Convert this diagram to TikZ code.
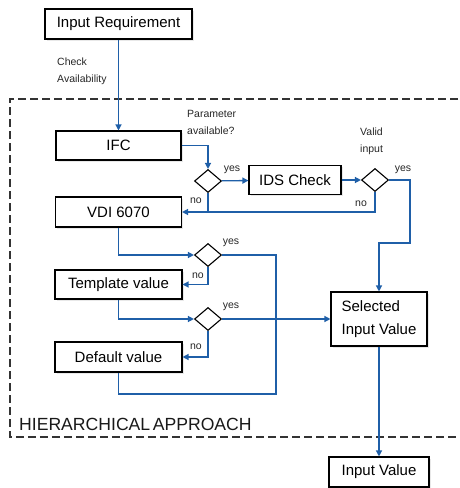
\documentclass[tikz,border=0pt]{standalone}
\usepackage{fontspec}
\setmainfont{Liberation Sans}
\usetikzlibrary{shapes.geometric,arrows.meta,shadows}
\definecolor{flowblue}{RGB}{31,95,168}

\begin{document}
\begin{tikzpicture}[x=1pt,y=-1pt,
    box/.style={draw=black,fill=white,line width=1.1pt,inner sep=0pt,
      font=\fontsize{15}{23}\selectfont,
      drop shadow={shadow xshift=1.5pt,shadow yshift=-1.5pt,opacity=0.18}},
    check/.style={diamond,draw=black,fill=white,line width=1.1pt,inner sep=0pt,
      minimum width=27pt,minimum height=23pt},
    flow/.style={draw=flowblue,line width=1.3pt},
    arr/.style={flow,-{Triangle[length=6pt,width=6pt]}},
    lbl/.style={font=\fontsize{10.5}{17}\selectfont,inner sep=0pt,text=black!85}]
  \useasboundingbox (0,0) rectangle (459,488);
  % hierarchical frame
  \draw[line width=1.2pt,black!80,dash pattern=on 8pt off 4pt] (470,99) -| (10,437) -- (470,437);
  \node[anchor=west,inner sep=0pt,font=\fontsize{17.6}{20}\selectfont,text=black!90] (frame) at (19,424) {HIERARCHICAL\hspace{0.15em}APPROACH};
  % boxes
  \node[box,minimum width=147pt,minimum height=30pt] (req) at (118.5,24) {Input Requirement};
  \node[box,minimum width=125pt,minimum height=29pt] (ifc) at (118.5,145.5) {IFC};
  \node[box,minimum width=126pt,minimum height=30pt] (vdi) at (118.5,212) {VDI 6070};
  \node[box,minimum width=127pt,minimum height=29pt] (tmpl) at (118.5,284.5) {Template value};
  \node[box,minimum width=127pt,minimum height=30pt] (dflt) at (118.5,357) {Default value};
  \node[box,minimum width=92pt,minimum height=29pt] (ids) at (295,180) {IDS Check};
  \node[box,minimum width=96pt,minimum height=54pt,align=left] (sel) at (379,319) {Selected\\Input Value};
  \node[box,minimum width=100pt,minimum height=30pt] (out) at (379,472) {Input Value};
  % decisions
  \node[check] (d1) at (208,181) {};
  \node[check] (d2) at (375,180) {};
  \node[check] (d3) at (208,255) {};
  \node[check] (d4) at (208,319) {};
  % free corners
  \coordinate (c1) at (410,243);
  \coordinate (c2) at (276,394);
  % connectors
  \draw[arr] (req) -- (ifc);
  \draw[arr] (ifc.east) -| (d1.north);
  \draw[arr] (d1) -- (ids);
  \draw[arr] (ids) -- (d2);
  \draw[arr] (d2.east) -| (c1) -| (sel.north);
  \draw[flow] (d1.south) -- (d1.south |- vdi.east);
  \draw[arr] (d2.south) |- (vdi.east);
  \draw[arr] (vdi.south) |- (d3.west);
  \draw[arr] (d3.south) |- (tmpl.east);
  \draw[arr] (tmpl.south) |- (d4.west);
  \draw[arr] (d4.south) |- (dflt.east);
  \draw[flow] (d3.east) -| (c2) -| (dflt.south);
  \draw[arr] (d4.east) -- (d4.east -| sel.west);
  \draw[arr] (sel) -- (out);
  % labels
  \node[lbl,anchor=west,align=left] (avail) at (57,71.5) {Check\\Availability};
  \node[lbl,anchor=west,align=left] (param) at (187,122) {Parameter\\available?};
  \node[lbl,anchor=west,align=left] (valid) at (360,141.5) {Valid\\input};
  \node[lbl] (y1) at (232,170) {yes};
  \node[lbl] (y2) at (403,170) {yes};
  \node[lbl] (y3) at (231,243) {yes};
  \node[lbl] (y4) at (231,307) {yes};
  \node[lbl] (n1) at (196,201) {no};
  \node[lbl] (n2) at (361,204) {no};
  \node[lbl] (n3) at (198,276) {no};
  \node[lbl] (n4) at (196,347) {no};
\end{tikzpicture}
\end{document}
